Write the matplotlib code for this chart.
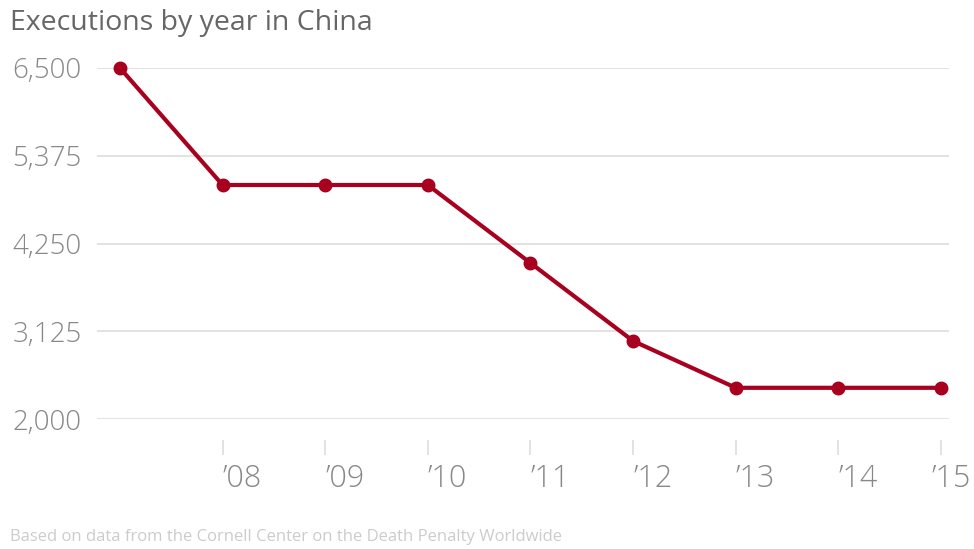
import matplotlib.pyplot as plt
from matplotlib.transforms import ScaledTranslation

years = [2007, 2008, 2009, 2010, 2011, 2012, 2013, 2014, 2015]
executions = [6500, 5000, 5000, 5000, 4000, 3000, 2400, 2400, 2400]
xtick_years = [2008, 2009, 2010, 2011, 2012, 2013, 2014, 2015]
xtick_labels = ["\u201908", "\u201909", "\u201910", "\u201911", "\u201912", "\u201913", "\u201914", "\u201915"]
ytick_vals = [2000, 3125, 4250, 5375, 6500]

plt.rcParams['font.family'] = ['Open Sans', 'DejaVu Sans']

W, H = 974, 549
fig = plt.figure(figsize=(W / 100, H / 100), dpi=100)
ax = fig.add_axes([97 / W, 1 - 419 / H, (949 - 97) / W, (419 - 68) / H])

ax.plot(years, executions, color='#a8001f', lw=3, marker='o', ms=9,
        clip_on=False, zorder=3, solid_capstyle='round')

ax.set_xlim(2006.776, 2015.078)
ax.set_ylim(2000, 6500)

ax.set_yticks(ytick_vals)
ax.set_yticklabels([f'{v:,}' for v in ytick_vals])
ax.grid(axis='y', color='#dddddd', lw=1.2)
ax.set_axisbelow(True)
ax.tick_params(axis='y', length=0, pad=61, labelsize=20, labelcolor='#888888')
for lbl in ax.get_yticklabels():
    lbl.set_horizontalalignment('left')
    lbl.set_fontweight('light')

ax.set_xticks(xtick_years)
ax.set_xticklabels(xtick_labels)
ax.spines['bottom'].set_position(('outward', 15))
for s in ax.spines.values():
    s.set_visible(False)
ax.tick_params(axis='x', length=11, width=1.2, color='#dddddd', pad=6,
               labelsize=22, labelcolor='#888888')
xlabels = ax.get_xticklabels()
for lbl in xlabels:
    lbl.set_horizontalalignment('left')
    lbl.set_fontweight('light')
# last label nudged left so it stays inside the canvas
xlabels[-1].set_transform(xlabels[-1].get_transform()
                          + ScaledTranslation(-9 / 100, 0, fig.dpi_scale_trans))

fig.text(10 / W, 1 - 30 / H, 'Executions by year in China', fontsize=20.5,
         color='#666666', va='baseline', ha='left')
fig.text(10 / W, 1 - 541 / H,
         'Based on data from the Cornell Center on the Death Penalty Worldwide',
         fontsize=12, color='#cccccc', va='baseline', ha='left')

fig.savefig('out.png', dpi=100)
